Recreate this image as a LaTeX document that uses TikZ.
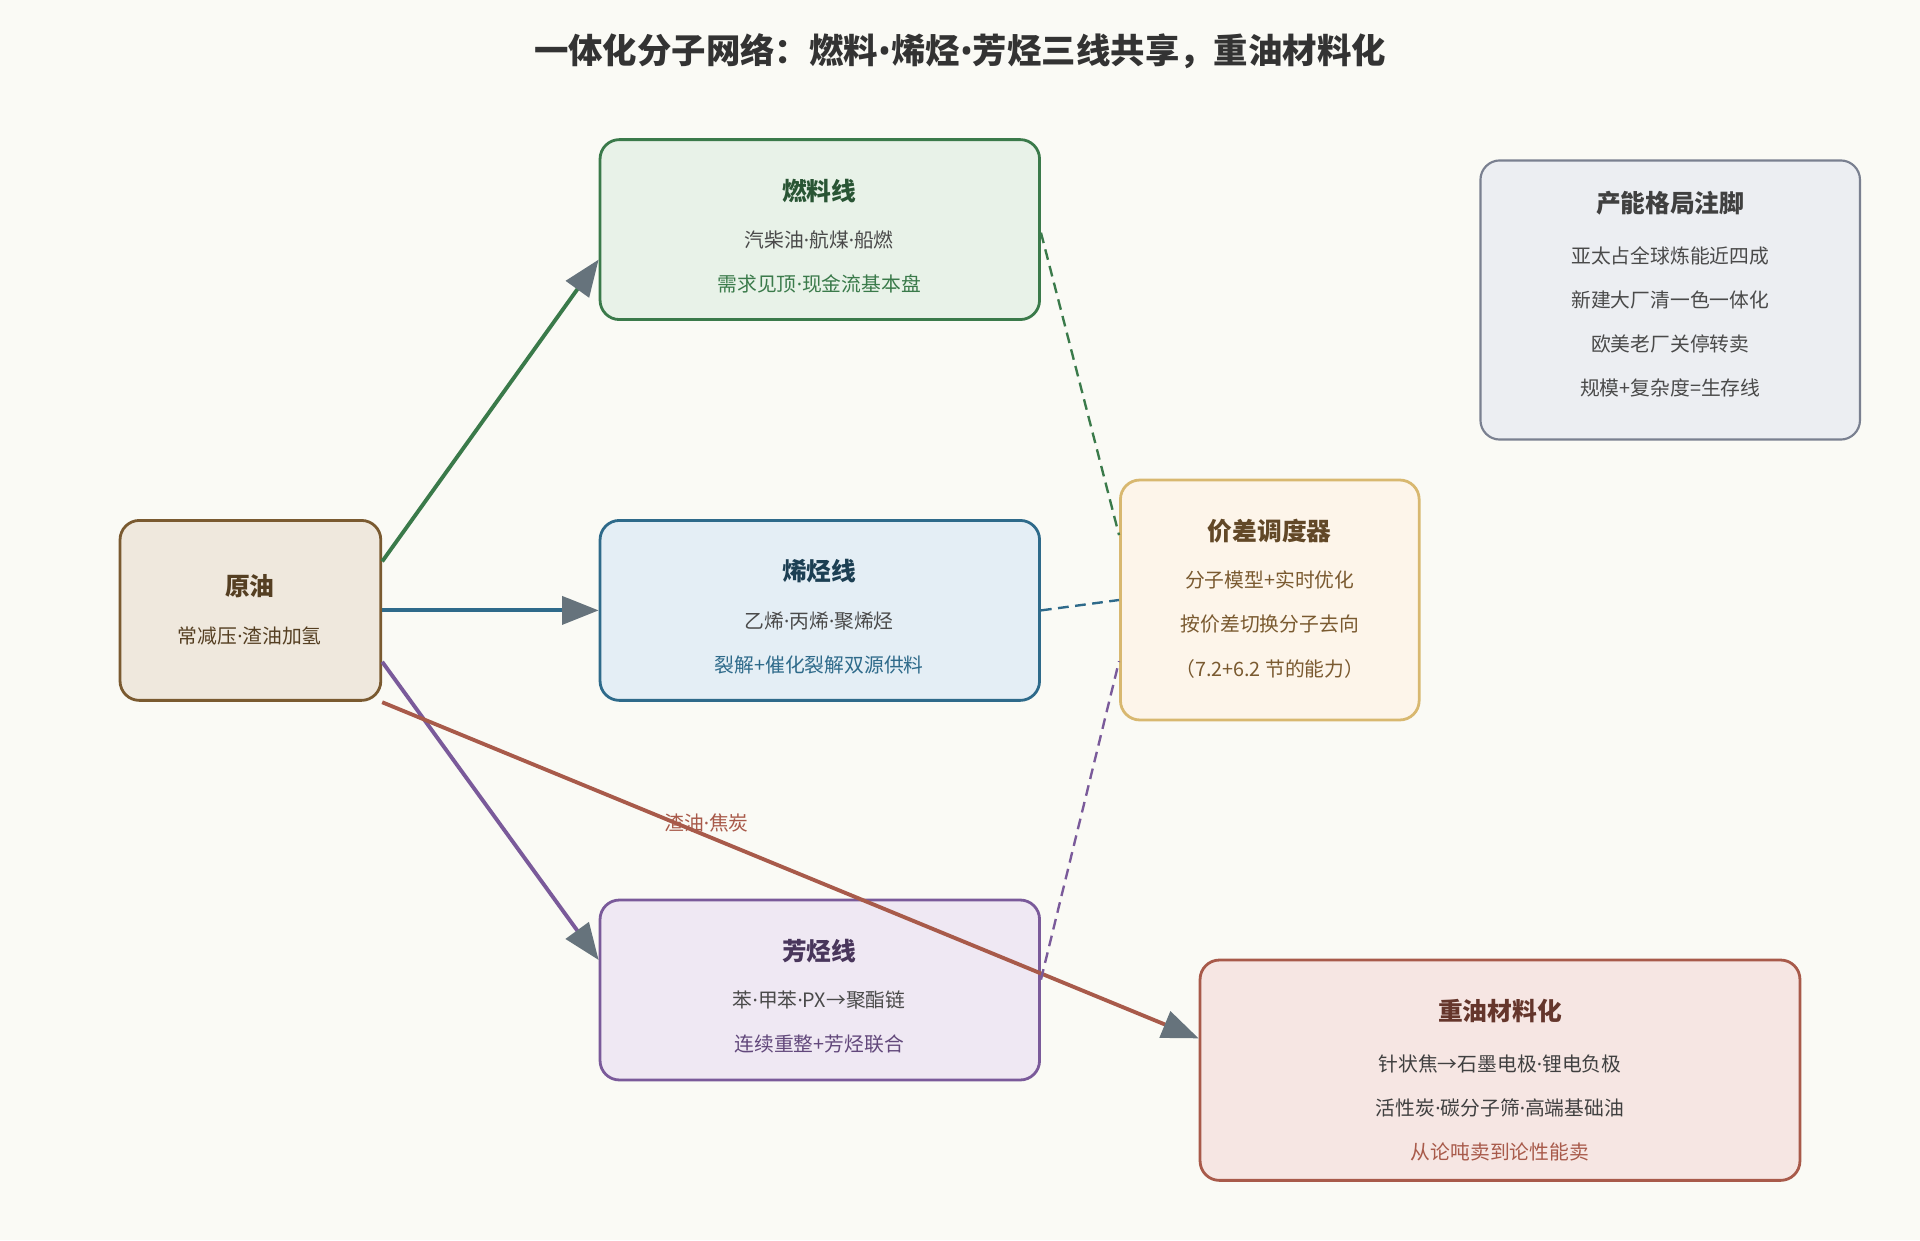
\documentclass[tikz,border=0pt]{standalone}
\usepackage{fontspec}
\setmainfont{Noto Sans CJK SC}
\newfontfamily\latf{Noto Sans}
\newcommand\md{{\latf ·}}
\newcommand\bl{{\latf •}}
\usetikzlibrary{arrows.meta,calc}
\definecolor{bg}{HTML}{FAFAF5}
\definecolor{tipg}{HTML}{66737C}
\definecolor{gS}{HTML}{3A7A4A}\definecolor{gF}{HTML}{E8F2E8}
\definecolor{bS}{HTML}{2E6A8A}\definecolor{bF}{HTML}{E4EEF5}
\definecolor{pS}{HTML}{7A5A9A}\definecolor{pF}{HTML}{EFE8F3}
\definecolor{oS}{HTML}{7A5A30}\definecolor{oF}{HTML}{EFE8DD}
\definecolor{dS}{HTML}{D8B870}\definecolor{dF}{HTML}{FDF5EA}
\definecolor{rS}{HTML}{A85A4A}\definecolor{rF}{HTML}{F6E6E3}
\definecolor{nS}{HTML}{7A8090}\definecolor{nF}{HTML}{ECEEF2}
\definecolor{txt}{HTML}{4A4A4A}
\begin{document}
\begin{tikzpicture}[x=0.02cm,y=-0.02cm,
 box/.style={draw,line width=1.3pt,rounded corners=9pt,inner sep=0pt},
 ttl/.style={font=\fontsize{11.5}{13}\selectfont\bfseries},
 bd/.style={font=\fontsize{9.2}{11}\selectfont,text=txt},
 arr/.style={line width=1.8pt,-{Triangle[length=17pt,width=13pt,color=tipg]}},
 dsh/.style={line width=1.1pt,dash pattern=on 5pt off 3pt}]
\fill[bg] (0,0) rectangle (1568,1013);
\useasboundingbox (0,0) rectangle (1568,1013);
\node[font=\fontsize{16}{18}\selectfont\bfseries,text=black!80] (title) at (784,42) {一体化分子网络：燃料\bl 烯烃\bl 芳烃三线共享，重油材料化};
% boxes
\node[box,draw=gS,fill=gF,minimum width=7.18cm,minimum height=2.94cm] (fuel) at (669.5,187.5) {};
\node[box,draw=bS,fill=bF,minimum width=7.18cm,minimum height=2.94cm] (ole) at (669.5,498.5) {};
\node[box,draw=pS,fill=pF,minimum width=7.18cm,minimum height=2.94cm] (aro) at (669.5,808.5) {};
\node[box,draw=oS,fill=oF,minimum width=4.26cm,minimum height=2.94cm] (crude) at (204.5,498.5) {};
\node[box,draw=dS,fill=dF,minimum width=4.88cm,minimum height=3.92cm] (disp) at (1037,490) {};
\node[box,draw=rS,fill=rF,minimum width=9.8cm,minimum height=3.6cm] (heavy) at (1225,874) {};
\node[box,draw=nS,fill=nF,line width=1pt,minimum width=6.2cm,minimum height=4.56cm] (note) at (1364,245) {};
% texts
\node[ttl,text=gS!70!black] (t1) at (669,156) {燃料线};
\node[bd] (t1a) at (669,196) {汽柴油\md 航煤\md 船燃};
\node[bd,text=gS] (t1b) at (669,232) {需求见顶\md 现金流基本盘};
\node[ttl,text=bS!60!black] (t2) at (669,466) {烯烃线};
\node[bd] (t2a) at (669,507) {乙烯\md 丙烯\md 聚烯烃};
\node[bd,text=bS] (t2b) at (669,543) {裂解+催化裂解双源供料};
\node[ttl,text=pS!60!black] (t3) at (669,777) {芳烃线};
\node[bd] (t3a) at (669,817) {苯\md 甲苯\md PX→聚酯链};
\node[bd,text=pS!80!black] (t3b) at (669,853) {连续重整+芳烃联合};
\node[ttl,text=oS!70!black] (t0) at (204,479) {原油};
\node[bd,text=oS!70!black] (t0a) at (204,519) {常减压\md 渣油加氢};
\node[ttl,text=oS!80!black] (t4) at (1037,434) {价差调度器};
\node[bd,text=oS] (t4a) at (1037,474) {分子模型+实时优化};
\node[bd,text=oS] (t4b) at (1037,510) {按价差切换分子去向};
\node[bd,text=oS] (t4c) at (1037,546) {（7.2+6.2 节的能力）};
\node[ttl,text=rS!60!black] (t5) at (1225,826) {重油材料化};
\node[bd,text=black!75] (t5a) at (1225,869) {针状焦→石墨电极\md 锂电负极};
\node[bd,text=black!75] (t5b) at (1225,905) {活性炭\md 碳分子筛\md 高端基础油};
\node[bd,text=rS] (t5c) at (1225,941) {从论吨卖到论性能卖};
\node[ttl,text=black!75] (t6) at (1364,166) {产能格局注脚};
\node[bd] (t6a) at (1364,209) {亚太占全球炼能近四成};
\node[bd] (t6b) at (1364,245) {新建大厂清一色一体化};
\node[bd] (t6c) at (1364,281) {欧美老厂关停转卖};
\node[bd] (t6d) at (1364,317) {规模+复杂度=生存线};
% arrows
\draw[arr,gS] ([yshift=0.8cm]crude.east) -- ([yshift=-0.49cm]fuel.west);
\draw[arr,bS] (crude.east) -- (ole.west);
\draw[arr,pS] ([yshift=-0.84cm]crude.east) -- ([yshift=0.49cm]aro.west);
\draw[arr,rS] ([yshift=-1.5cm]crude.east) -- ([yshift=0.52cm]heavy.west);
\node[bd,text=rS] (lab) at (577,672) {渣油\md 焦炭};
% dashed
\draw[dsh,gS] ([yshift=-0.05cm]fuel.east) -- ([yshift=1.06cm]disp.west);
\draw[dsh,bS] (ole.east) -- (disp.west);
\draw[dsh,pS] ([yshift=0.17cm]aro.east) -- ([yshift=-1cm]disp.west);
\end{tikzpicture}
\end{document}
